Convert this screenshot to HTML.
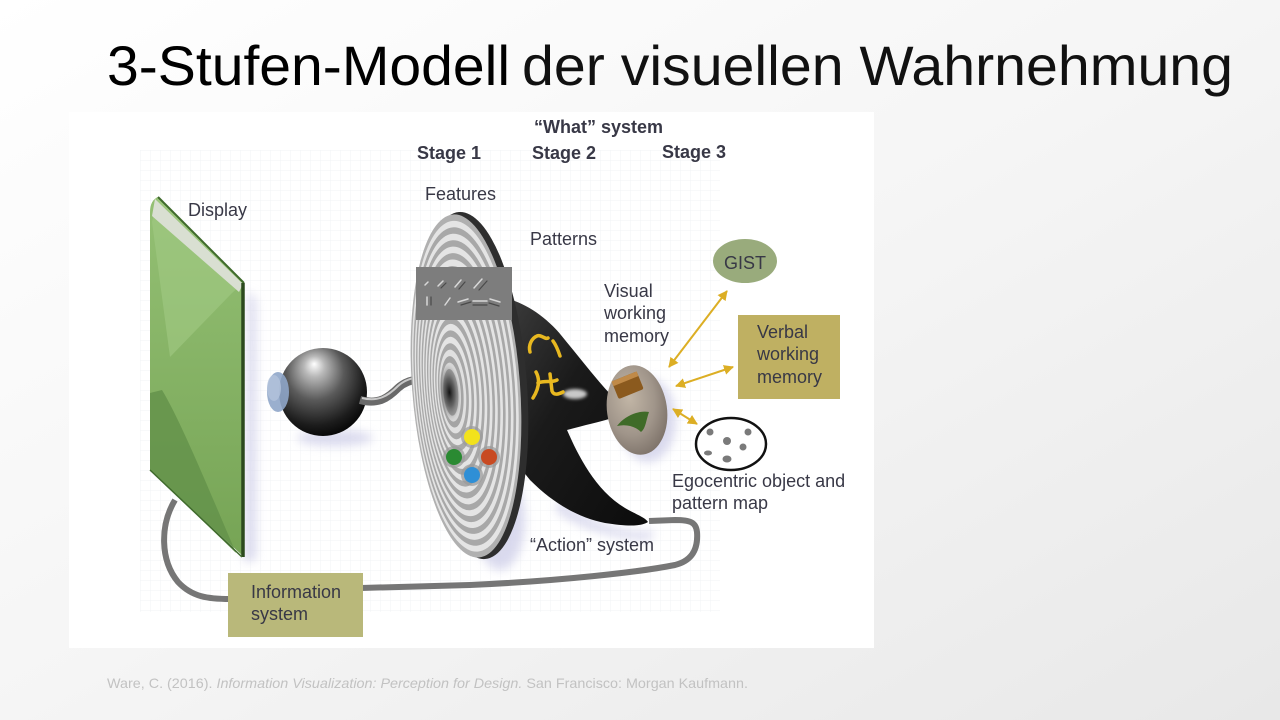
<!DOCTYPE html>
<html><head><meta charset="utf-8"><style>
html,body{margin:0;padding:0;width:1280px;height:720px;overflow:hidden;}
svg{display:block;}
</style></head><body>
<svg width="1280" height="720" viewBox="0 0 1280 720" xmlns="http://www.w3.org/2000/svg">
<defs>
<linearGradient id="bg" x1="0" y1="0" x2="1" y2="1">
<stop offset="0" stop-color="#ffffff"/><stop offset="0.5" stop-color="#f5f5f5"/><stop offset="1" stop-color="#e8e8e8"/>
</linearGradient>
<pattern id="grid" width="10" height="10" patternUnits="userSpaceOnUse">
<path d="M10 0 L0 0 0 10" fill="none" stroke="#eef0f3" stroke-width="1"/>
</pattern>
<radialGradient id="eye" cx="0.42" cy="0.35" r="0.65" fx="0.4" fy="0.18">
<stop offset="0" stop-color="#ffffff"/><stop offset="0.18" stop-color="#b8b8b8"/><stop offset="0.5" stop-color="#5a5a5a"/><stop offset="0.85" stop-color="#1c1c1c"/><stop offset="1" stop-color="#0a0a0a"/>
</radialGradient>
<radialGradient id="hole" cx="0.5" cy="0.5" r="0.5">
<stop offset="0" stop-color="#111"/><stop offset="0.5" stop-color="#555" stop-opacity="0.8"/><stop offset="1" stop-color="#999" stop-opacity="0"/>
</radialGradient>
<radialGradient id="vwm" cx="0.4" cy="0.35" r="0.7">
<stop offset="0" stop-color="#c2b6a6"/><stop offset="0.6" stop-color="#a0958a"/><stop offset="1" stop-color="#7c7168"/>
</radialGradient>
<linearGradient id="blk" x1="0" y1="0" x2="1" y2="1">
<stop offset="0" stop-color="#3a3a3a"/><stop offset="0.4" stop-color="#1a1a1a"/><stop offset="1" stop-color="#0c0c0c"/>
</linearGradient>
<linearGradient id="grn" x1="0" y1="0" x2="0" y2="1">
<stop offset="0" stop-color="#94c074"/><stop offset="1" stop-color="#76a455"/>
</linearGradient>
<filter id="blur" x="-50%" y="-50%" width="200%" height="200%"><feGaussianBlur stdDeviation="5"/></filter>
<filter id="blur2" x="-50%" y="-50%" width="200%" height="200%"><feGaussianBlur stdDeviation="1.5"/></filter>
<marker id="ah" viewBox="0 0 10 10" refX="9" refY="5" markerWidth="5" markerHeight="5" orient="auto-start-reverse" markerUnits="strokeWidth">
<path d="M0,0 L10,5 L0,10 Z" fill="#dcae24"/>
</marker>
</defs>

<rect width="1280" height="720" fill="url(#bg)"/>

<!-- Title -->
<text x="107" y="85" font-family="Liberation Sans, sans-serif" font-size="56" fill="#000" textLength="403" lengthAdjust="spacingAndGlyphs">3-Stufen-Modell</text>
<text x="522" y="85" font-family="Liberation Sans, sans-serif" font-size="56" fill="#111" textLength="711" lengthAdjust="spacingAndGlyphs">der visuellen Wahrnehmung</text>

<!-- Panel -->
<rect x="69" y="112" width="805" height="536" fill="#ffffff"/>
<rect x="140" y="150" width="580" height="462" fill="url(#grid)" opacity="0.8"/>

<!-- shadows -->
<g fill="#d6d6ec" filter="url(#blur)" opacity="0.9">
<path d="M248,290 L256,300 L256,560 L244,562 Z"/>
<ellipse cx="335" cy="438" rx="38" ry="8"/>
<ellipse cx="500" cy="520" rx="25" ry="50"/>
<path d="M560,500 C600,530 640,535 655,530 L650,540 C620,540 580,530 555,510 Z"/>
<ellipse cx="648" cy="420" rx="28" ry="42"/>
</g>

<!-- Display -->
<path d="M158,197 L244,283 L244,557 L150,470 L150,212 C150,204 153,199 158,197 Z" fill="url(#grn)"/>
<path d="M152,222 L170,357 L232,293 L243,283 L158,198 Z" fill="#a2c983" opacity="0.6"/>
<path d="M150,393 L162,390 C180,420 205,480 236,553 L150,470 Z" fill="#63914a" opacity="0.8"/>
<path d="M155,199 L243,284 L239,292 L152,216 Z" fill="#d9dfd2"/>
<path d="M158,197 L244,283" stroke="#3f6a2c" stroke-width="2"/>
<path d="M243,283 L243,557" stroke="#2c4a1e" stroke-width="3.5"/>
<path d="M150,470 L242,557" stroke="#3f6a2c" stroke-width="1.5"/>

<!-- connector loop -->
<g fill="none" stroke="#767676" stroke-width="6" stroke-linecap="butt">
<path d="M175,500 C160,525 160,560 178,582 C192,597 208,599 230,599"/>
<path d="M361,588 L470,585 C560,581 640,572 675,565 C695,560 698,545 697,532 C696,522 690,520 675,520 L649,521"/>
</g>

<!-- Eye -->
<circle cx="323" cy="392" r="44" fill="url(#eye)"/>
<ellipse cx="278" cy="392" rx="11" ry="20" fill="#8fa6c9" opacity="0.9"/>
<ellipse cx="274" cy="388" rx="7" ry="13" fill="#b3c3dc" opacity="0.8"/>
<!-- nerve -->
<path d="M360,400 C378,405 388,398 398,388 C410,377 425,378 447,382" fill="none" stroke="#6a6a6a" stroke-width="8"/>
<path d="M362,398 C378,402 388,396 398,386 C410,375 425,376 446,379" fill="none" stroke="#c9c9c9" stroke-width="2"/>

<!-- Black pattern shape -->
<path d="M512,300 C530,306 550,320 565,340 C580,358 595,378 612,396 L612,418 C600,422 585,425 567,430 C578,455 595,490 625,508 C635,514 645,517 648,522 C640,527 625,526 605,523 C580,518 555,505 530,480 L518,465 L512,300 Z" fill="url(#blk)"/>
<ellipse cx="575" cy="394" rx="12" ry="5" fill="#e8e8e8" opacity="0.85" filter="url(#blur2)"/>
<g fill="none" stroke="#e8b820" stroke-width="3.5" stroke-linecap="round">
<path d="M530,352 C528,345 532,338 537,336 C541,334 545,340 548,338"/>
<path d="M553,341 C556,345 558,350 560,356"/>
<path d="M536,372 C541,381 538,390 533,398"/>
<path d="M538,383 C545,380 551,383 557,380"/>
<path d="M550,374 L552,391 C554,396 559,394 563,392"/>
</g>

<!-- Disc -->
<g transform="rotate(-4.3 466 386)">
<ellipse cx="472" cy="386" rx="55" ry="174" fill="#2e2e2e"/>
<ellipse cx="466" cy="386" rx="54" ry="172" fill="#b0b0b0"/>
<ellipse cx="465.35" cy="386.22" rx="52.06" ry="165.81" fill="#e4e4e4"/>
<ellipse cx="464.70" cy="386.43" rx="50.11" ry="159.62" fill="#a8a8a8"/>
<ellipse cx="464.06" cy="386.65" rx="48.17" ry="153.42" fill="#e4e4e4"/>
<ellipse cx="463.41" cy="386.86" rx="46.22" ry="147.23" fill="#a8a8a8"/>
<ellipse cx="462.76" cy="387.08" rx="44.28" ry="141.04" fill="#e4e4e4"/>
<ellipse cx="462.11" cy="387.30" rx="42.34" ry="134.85" fill="#a8a8a8"/>
<ellipse cx="461.46" cy="387.51" rx="40.39" ry="128.66" fill="#e4e4e4"/>
<ellipse cx="460.82" cy="387.73" rx="38.45" ry="122.46" fill="#a8a8a8"/>
<ellipse cx="460.17" cy="387.94" rx="36.50" ry="116.27" fill="#e4e4e4"/>
<ellipse cx="459.52" cy="388.16" rx="34.56" ry="110.08" fill="#a8a8a8"/>
<ellipse cx="458.87" cy="388.38" rx="32.62" ry="103.89" fill="#e4e4e4"/>
<ellipse cx="458.22" cy="388.59" rx="30.67" ry="97.70" fill="#a8a8a8"/>
<ellipse cx="457.58" cy="388.81" rx="28.73" ry="91.50" fill="#e4e4e4"/>
<ellipse cx="456.93" cy="389.02" rx="26.78" ry="85.31" fill="#a8a8a8"/>
<ellipse cx="456.28" cy="389.24" rx="24.84" ry="79.12" fill="#e4e4e4"/>
<ellipse cx="455.63" cy="389.46" rx="22.90" ry="72.93" fill="#a8a8a8"/>
<ellipse cx="454.98" cy="389.67" rx="20.95" ry="66.74" fill="#e4e4e4"/>
<ellipse cx="454.34" cy="389.89" rx="19.01" ry="60.54" fill="#a8a8a8"/>
<ellipse cx="453.69" cy="390.10" rx="17.06" ry="54.35" fill="#e4e4e4"/>
<ellipse cx="453.04" cy="390.32" rx="15.12" ry="48.16" fill="#a8a8a8"/>
<ellipse cx="452.39" cy="390.54" rx="13.18" ry="41.97" fill="#e0e0e0"/>
<ellipse cx="451.74" cy="390.75" rx="11.23" ry="35.78" fill="#a4a4a4"/>
<ellipse cx="451.10" cy="390.97" rx="9.29" ry="29.58" fill="#d6d6d6"/>
<ellipse cx="450.45" cy="391.18" rx="7.34" ry="23.39" fill="#9a9a9a"/>
<ellipse cx="449" cy="391" rx="11" ry="28" fill="url(#hole)"/>
</g>

<!-- Feature rect -->
<rect x="416" y="267" width="96" height="53" fill="#7d7d7d"/>
<g stroke-linecap="round">
<g stroke="#d8d8d8" stroke-width="1.5">
<path d="M425,285 l3,-3"/><path d="M438,286 l5,-5"/><path d="M455,287 l6,-7"/><path d="M474,288 l8,-9"/>
<path d="M427,297 l0,8"/><path d="M445,305 l5,-7"/><path d="M458,302 l10,-3"/><path d="M473,301 l14,0"/><path d="M490,299 l10,3"/>
</g>
<g stroke="#4a4a4a" stroke-width="1.2">
<path d="M441,288 l5,-5"/><path d="M459,289 l6,-7"/><path d="M479,290 l8,-9"/>
<path d="M431,297 l0,8"/><path d="M461,305 l10,-3"/><path d="M473,305 l14,0"/><path d="M489,303 l10,3"/>
</g>
</g>

<!-- colored dots -->
<g fill="#9a9a9a" opacity="0.7">
<circle cx="472" cy="437" r="11"/><circle cx="454" cy="457" r="11"/><circle cx="489" cy="457" r="11"/><circle cx="472" cy="475" r="11"/>
</g>
<circle cx="472" cy="437" r="8" fill="#f2e21c"/>
<circle cx="454" cy="457" r="8" fill="#2a8a32"/>
<circle cx="489" cy="457" r="8" fill="#c84a22"/>
<circle cx="472" cy="475" r="8" fill="#2f8fd6"/>

<!-- VWM -->
<ellipse cx="637" cy="410" rx="30" ry="45" fill="url(#vwm)" transform="rotate(-8 637 410)"/>
<g transform="rotate(-22 627 385)">
<rect x="614" y="376" width="27" height="19" rx="2" fill="#8b5a1e"/>
<rect x="614" y="376" width="27" height="5" fill="#c08a48"/>
</g>
<path d="M617,426 C625,415 640,410 649,412 C646,420 646,428 641,432 C635,426 626,424 617,426 Z" fill="#3f6b28"/>

<!-- Arrows -->
<g stroke="#dcae24" stroke-width="2" fill="none">
<path d="M727,291 L669,367" marker-start="url(#ah)" marker-end="url(#ah)"/>
<path d="M733,367 L676,386" marker-start="url(#ah)" marker-end="url(#ah)"/>
<path d="M673,409 L697,424" marker-start="url(#ah)" marker-end="url(#ah)"/>
</g>

<!-- GIST -->
<ellipse cx="745" cy="261" rx="32" ry="22" fill="#99ab7c"/>
<!-- Verbal box -->
<rect x="738" y="315" width="102" height="84" fill="#bfb062"/>
<!-- Info box -->
<rect x="228" y="573" width="135" height="64" fill="#b9b87a"/>

<!-- Egocentric map -->
<ellipse cx="731" cy="444" rx="35" ry="26" fill="#ffffff" stroke="#111" stroke-width="2.5"/>
<g fill="#7a7a7a">
<circle cx="710" cy="432" r="3.5"/><circle cx="748" cy="432" r="3.5"/><circle cx="727" cy="441" r="4"/>
<circle cx="743" cy="447" r="3.5"/><ellipse cx="708" cy="453" rx="4" ry="2.5"/><ellipse cx="727" cy="459" rx="4.5" ry="3.5"/>
</g>

<!-- Labels -->
<g font-family="Liberation Sans, Arial, sans-serif" font-size="18" fill="#383846">
<text x="534" y="133" font-weight="bold">“What” system</text>
<text x="417" y="159" font-weight="bold">Stage 1</text>
<text x="532" y="159" font-weight="bold">Stage 2</text>
<text x="662" y="158" font-weight="bold">Stage 3</text>
<text x="425" y="200">Features</text>
<text x="188" y="216">Display</text>
<text x="530" y="245">Patterns</text>
<text x="604" y="297">Visual</text>
<text x="604" y="319">working</text>
<text x="604" y="342">memory</text>
<text x="745" y="269" text-anchor="middle">GIST</text>
<text x="757" y="338">Verbal</text>
<text x="757" y="360">working</text>
<text x="757" y="383">memory</text>
<text x="672" y="487">Egocentric object and</text>
<text x="672" y="509">pattern map</text>
<text x="530" y="551">“Action” system</text>
<text x="251" y="598">Information</text>
<text x="251" y="620">system</text>
</g>

<!-- Citation -->
<text x="107" y="688" font-family="Liberation Sans, sans-serif" font-size="14" fill="#c2c2c2" textLength="641" lengthAdjust="spacingAndGlyphs">Ware, C. (2016). <tspan font-style="italic">Information Visualization: Perception for Design.</tspan> San Francisco: Morgan Kaufmann.</text>
</svg>
</body></html>
